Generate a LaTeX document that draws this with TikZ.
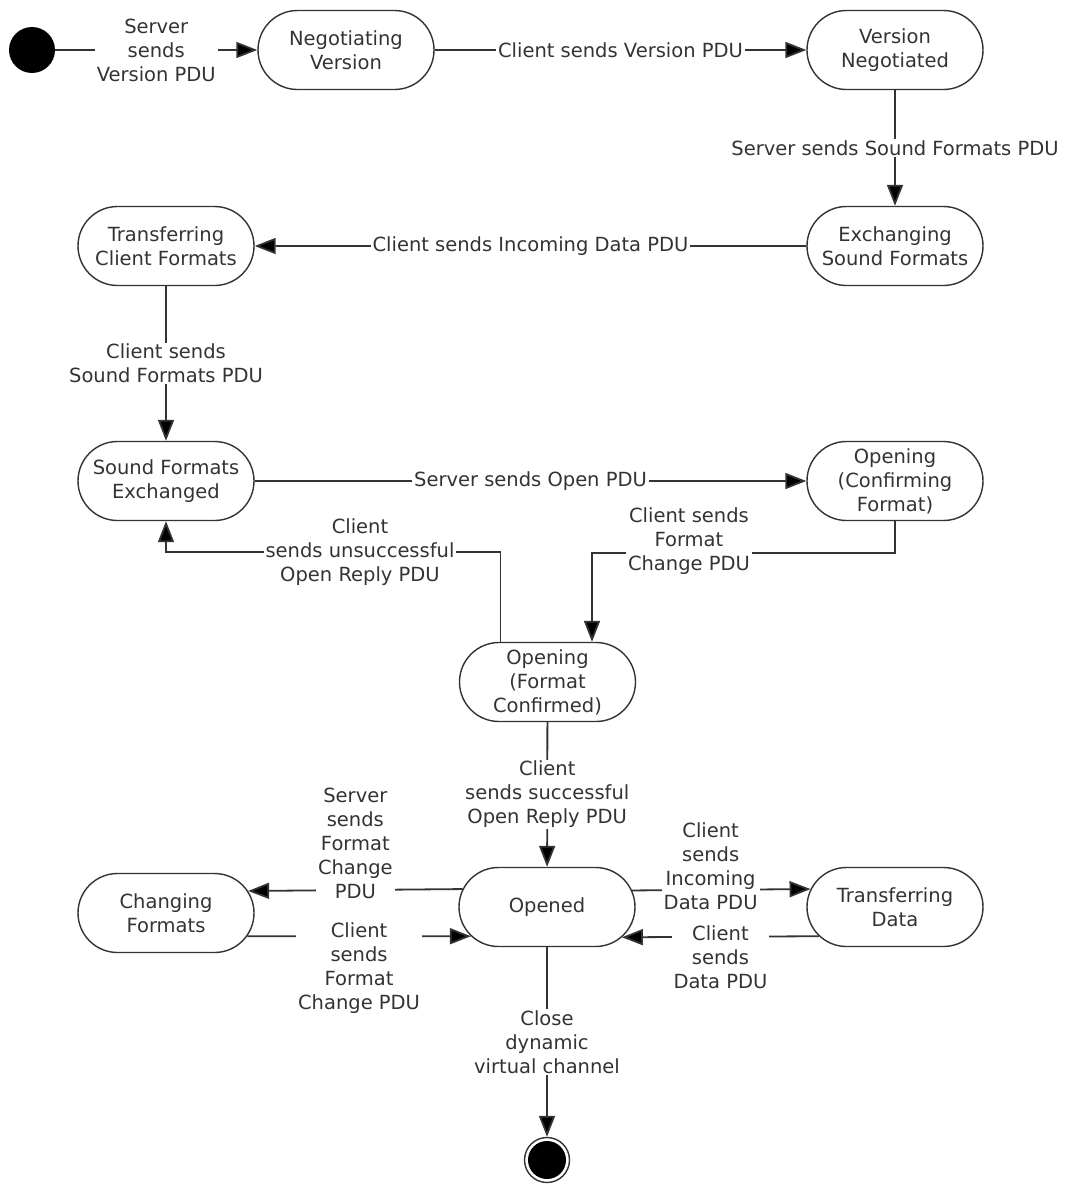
\documentclass[tikz,border=0pt]{standalone}
\usepackage{fontspec}
\setmainfont{DejaVu Sans}
\usetikzlibrary{shapes.misc,arrows.meta}
\definecolor{ink}{HTML}{333333}

\begin{document}
\begin{tikzpicture}[x=1pt,y=1pt,
    font=\fontsize{19.5}{24}\selectfont,
    every node/.style={text=ink},
    state/.style={rounded rectangle,draw=ink,line width=1.4pt,minimum width=180pt,minimum height=79pt,align=center,inner sep=2pt},
    lbl/.style={fill=white,align=center,inner xsep=2pt,inner ysep=1pt},
    flow/.style={draw=ink,line width=1.8pt,-{Triangle[length=21pt,width=16pt,fill=black]}}]

  \useasboundingbox (0,0) rectangle (1065,-1186);

  % start and end
  \node[circle,fill=black,minimum size=46pt,inner sep=0pt] (init) at (32,-50) {};
  \node[circle,draw=ink,line width=1.4pt,minimum size=45pt,inner sep=0pt,
        path picture={\fill[black] (path picture bounding box.center) circle (19pt);}] (final) at (547,-1160) {};

  % states
  \node[state] (neg)   at (346,-50)    {Negotiating\\Version};
  \node[state] (vneg)  at (895,-50)    {Version\\Negotiated};
  \node[state] (exch)  at (895,-246)   {Exchanging\\Sound Formats};
  \node[state] (tcf)   at (166,-246)   {Transferring\\Client Formats};
  \node[state] (sfe)   at (166,-481)   {Sound Formats\\Exchanged};
  \node[state] (conf)  at (895,-481)   {Opening\\(Confirming\\Format)};
  \node[state] (fconf) at (547.5,-682) {Opening\\(Format\\Confirmed)};
  \node[state] (opened) at (547,-907)  {Opened};
  \node[state] (chf)   at (166,-913)   {Changing\\Formats};
  \node[state] (trd)   at (895,-907)   {Transferring\\Data};

  % transitions
  \draw[flow] (init) -- node[lbl]{Server\\sends\\Version PDU} (neg);
  \draw[flow] (neg) -- node[lbl]{Client sends Version PDU} (vneg);
  \draw[flow] (vneg) -- node[lbl]{Server sends Sound Formats PDU} (exch);
  \draw[flow] (exch) -- node[lbl]{Client sends Incoming Data PDU} (tcf);
  \draw[flow] (tcf) -- node[lbl]{Client sends\\Sound Formats PDU} (sfe);
  \draw[flow] (sfe) -- node[lbl]{Server sends Open PDU} (conf);
  \draw[flow] (conf.south) -- ++(0,-32) -| node[lbl,pos=0.34,yshift=12pt]{Client sends\\Format\\Change PDU} ([xshift=44.5pt]fconf.north);
  \draw[flow] ([xshift=-47pt]fconf.north) -- ++(0,90) -| node[lbl,pos=0.21]{Client\\sends unsuccessful\\Open Reply PDU} (sfe.south);
  \draw[flow] (fconf) -- node[lbl]{Client\\sends successful\\Open Reply PDU} (opened);

  \draw[flow] (opened.168.1) -- node[lbl,yshift=47pt]{Server\\sends\\Format\\Change\\PDU} (chf.15.6);
  \draw[flow] (chf.344.4) -- node[lbl,yshift=-32pt]{Client\\sends\\Format\\Change PDU} (opened.201.5);
  \draw[flow] (opened.11.9) -- node[lbl,pos=0.44,yshift=24pt]{Client\\sends\\Incoming\\Data PDU} (trd.168.1);
  \draw[flow] (trd.201.5) -- node[lbl,yshift=-20pt]{Client\\sends\\Data PDU} (opened.338.5);

  \draw[flow] (opened) -- node[lbl]{Close\\dynamic\\virtual channel} (final);

\end{tikzpicture}
\end{document}
